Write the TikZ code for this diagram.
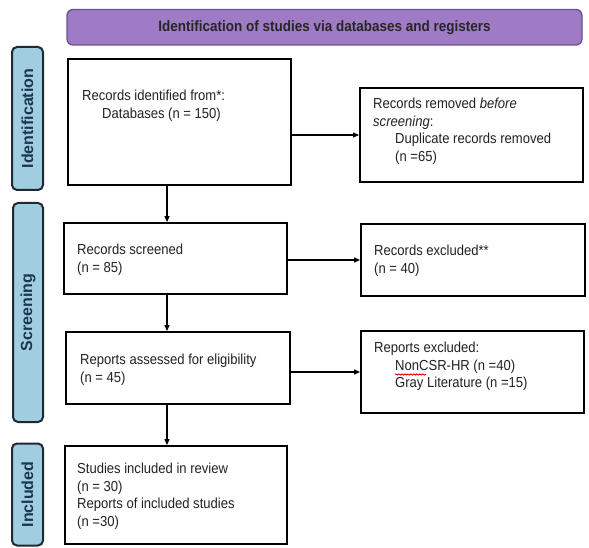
\documentclass[tikz,border=0pt]{standalone}
\usepackage{fontspec}
\setmainfont{Liberation Sans}[FakeStretch=0.9]
\newfontfamily\lblfont{Liberation Sans}
\usetikzlibrary{arrows.meta,decorations.pathmorphing}
\definecolor{hdrfill}{HTML}{9F7BC6}
\definecolor{hdrline}{HTML}{6B4E93}
\definecolor{lblfill}{HTML}{A0CDE0}
\definecolor{lblline}{HTML}{1E2A33}
\definecolor{lbltext}{HTML}{1C3550}
\definecolor{txtgray}{HTML}{222222}
\begin{document}
\begin{tikzpicture}[x=1pt,y=-1pt,
  boxst/.style={draw=black,line width=1.8pt,fill=white,inner sep=0pt},
  hdrst/.style={draw=hdrline,line width=1.3pt,fill=hdrfill,rounded corners=6pt,inner sep=0pt,
     font=\bfseries\fontsize{15}{17}\selectfont,text=black!85},
  lblst/.style={draw=lblline,line width=2pt,fill=lblfill,rounded corners=5pt,inner sep=0pt},
  lbltxt/.style={rotate=90,font=\lblfont\bfseries\fontsize{16}{19}\selectfont,text=lbltext,inner sep=0pt},
  txtst/.style={anchor=north west,align=left,inner sep=0pt,text=txtgray,
     font=\fontsize{14.5}{17.5}\selectfont},
  arr/.style={line width=1.1pt,-{Triangle[length=6pt,width=5pt]}}]
\useasboundingbox (0,0) rectangle (589,548);

% header
\node[hdrst,minimum width=515pt,minimum height=35.5pt] (hdr) at (324.5,27.25)
  {Identification of studies via databases and registers};

% side labels
\node[lblst,minimum width=31pt,minimum height=143pt] (lid) at (27.5,118.5) {};
\node[lbltxt] (tid) at (lid.center) {Identification};
\node[lblst,minimum width=30pt,minimum height=219pt] (lsc) at (28,312.5) {};
\node[lbltxt] (tsc) at (lsc.center) {Screening};
\node[lblst,minimum width=31pt,minimum height=102pt] (lin) at (27.5,494.5) {};
\node[lbltxt] (tin) at (lin.center) {Included};

% boxes
\node[boxst,minimum width=223pt,minimum height=126pt] (b1) at (179.5,122) {};
\node[boxst,minimum width=223pt,minimum height=94pt] (b2) at (471.5,135) {};
\node[boxst,minimum width=223pt,minimum height=71pt] (b3) at (175.5,258.5) {};
\node[boxst,minimum width=224pt,minimum height=72pt] (b4) at (473,260) {};
\node[boxst,minimum width=224pt,minimum height=72pt] (b5) at (178,368) {};
\node[boxst,minimum width=223pt,minimum height=82pt] (b6) at (472.5,372) {};
\node[boxst,minimum width=222pt,minimum height=98pt] (b7) at (176,495) {};

% texts
\node[txtst] (t1) at (82,88.5) {\strut Records identified from*:\\\hspace*{20pt}Databases (n = 150)};
\node[txtst] (t2) at (373,96.5) {\strut Records removed \textit{before}\\\textit{screening}:\\\hspace*{22pt}Duplicate records removed\\\hspace*{22pt}(n =65)};
\node[txtst] (t3) at (77,242.5) {\strut Records screened\\(n = 85)};
\node[txtst] (t4) at (374,243.5) {\strut Records excluded**\\(n = 40)};
\node[txtst] (t5) at (80,352.5) {\strut Reports assessed for eligibility\\(n = 45)};
\node[txtst] (t6) at (374,340.5) {\strut Reports excluded:\\\hspace*{21pt}NonCSR-HR (n =40)\\\hspace*{21pt}Gray Literature (n =15)};
\node[txtst] (t7) at (77,461.5) {\strut Studies included in review\\(n = 30)\\Reports of included studies\\(n =30)};

% spell-check squiggle
\draw[red!85!black,line width=0.8pt,decorate,decoration={snake,amplitude=0.7pt,segment length=3pt}]
  (395,374.5) -- (426,374.5);

% connectors
\coordinate (vx) at (167,0);
\draw[arr] (b1.east |- b2.west) -- (b2.west);
\draw[arr] (b3.east |- b4.west) -- (b4.west);
\draw[arr] (b5.east |- b6.west) -- (b6.west);
\draw[arr] (vx |- b1.south) -- (vx |- b3.north);
\draw[arr] (vx |- b3.south) -- (vx |- b5.north);
\draw[arr] (vx |- b5.south) -- (vx |- b7.north);
\end{tikzpicture}
\end{document}
